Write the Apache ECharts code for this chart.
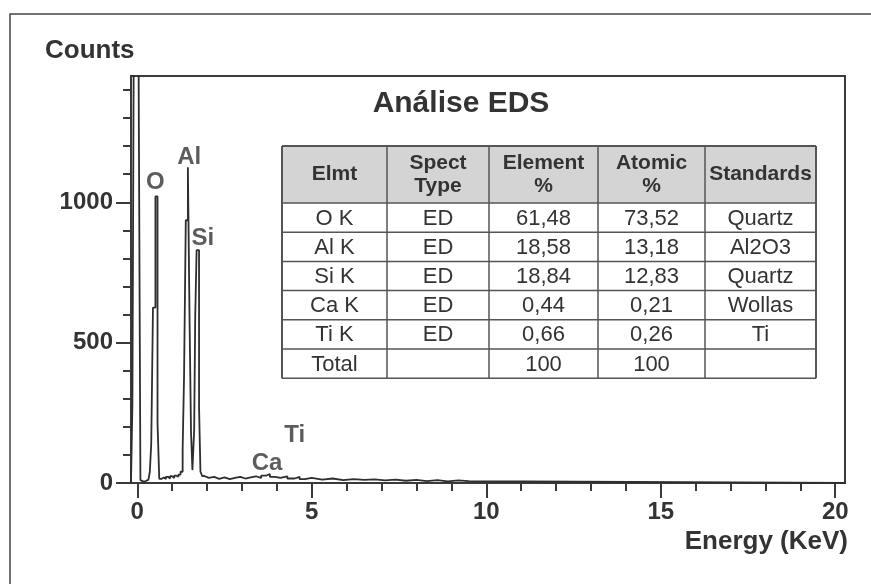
<!DOCTYPE html>
<html><head><meta charset="utf-8">
<script src="https://cdn.jsdelivr.net/npm/echarts@6/dist/echarts.min.js"></script>
<style>html,body{margin:0;padding:0;background:#fff}#c{width:871px;height:584px}</style>
</head><body><div id="c"></div>
<script>
// ---- spectrum data (energy in keV, counts held until next energy) ----
const energy = [-0.18,-0.14,-0.10,0.04,0.09,0.14,0.20,0.26,0.32,0.36,0.40,0.45,0.52,0.58,0.63,
  0.70,0.76,0.82,0.88,0.94,1.00,1.06,1.12,1.18,1.24,1.30,1.34,1.39,1.45,1.50,1.54,1.58,1.63,1.66,1.70,1.77,1.81,1.86,
  1.92,2.05,2.20,2.35,2.50,2.65,2.80,2.95,3.10,3.25,3.40,3.55,3.69,3.80,3.95,4.10,4.30,4.51,4.65,4.80,
  5.00,5.30,5.60,5.90,6.20,6.50,6.80,7.10,7.40,7.70,8.00,8.30,8.60,8.90,9.20,9.50,20.28];
const counts = [0,280,1600,1420,10,4,8,12,18,40,140,625,1021,214,15,
  20,14,22,16,24,18,26,22,30,40,120,378,936,1125,560,180,46,190,590,830,270,40,25,
  18,22,15,20,14,18,22,16,20,24,18,26,32,22,18,24,16,22,14,18,
  12,16,10,14,11,13,9,12,8,11,7,10,6,9,7,0,0];

const majorXTicks = [0,5,10,15,20];
const minorXTicks = [0,1,2,3,4,5,6,7,8,9,10,11,12,13,14,15,16,17,18,19,20];
const majorYTicks = [0,500,1000];
const minorYTicks = [0,100,200,300,400,500,600,700,800,900,1000,1100,1200,1300,1400];

const peakNames = ['O','Al','Si','Ca','Ti'];
const peakLabelEnergy = [0.52,1.49,1.88,3.72,4.51];
const peakLabelCounts = [1070,1160,872,70,168];

const tableHeader = ['Elmt','Spect\nType','Element\n%','Atomic\n%','Standards'];
const colElmt = ['O K','Al K','Si K','Ca K','Ti K','Total'];
const colType = ['ED','ED','ED','ED','ED',''];
const colElement = ['61,48','18,58','18,84','0,44','0,66','100'];
const colAtomic = ['73,52','13,18','12,83','0,21','0,26','100'];
const colStandard = ['Quartz','Al2O3','Quartz','Wollas','Ti',''];

const FONT = '"Liberation Sans", Arial, sans-serif';
const INK = '#333';

const chart = echarts.init(document.getElementById('c'), null, {renderer:'canvas'});

// table graphics
const colX = [282,387,489,598,705,816];
const headTop = 146, headBottom = 203, rowH = 29.2;
const tableBottom = headBottom + rowH * colElmt.length;
const g = [];
g.push({type:'rect', shape:{x:colX[0], y:headTop, width:colX[5]-colX[0], height:headBottom-headTop}, style:{fill:'#d4d4d4'}, z:10});
for (let k = 0; k <= colElmt.length; k++) {
  const y = headBottom + k * rowH;
  g.push({type:'line', shape:{x1:colX[0], y1:y, x2:colX[5], y2:y}, style:{stroke:'#555', lineWidth:1.5}, z:11});
}
g.push({type:'line', shape:{x1:colX[0], y1:headTop, x2:colX[5], y2:headTop}, style:{stroke:'#555', lineWidth:2}, z:11});
colX.forEach((x, i) => {
  g.push({type:'line', shape:{x1:x, y1:headTop, x2:x, y2:tableBottom}, style:{stroke:'#555', lineWidth:(i===0||i===5)?2:1.5}, z:11});
});
tableHeader.forEach((t, i) => {
  g.push({type:'text', x:(colX[i]+colX[i+1])/2, y:(headTop+headBottom)/2, z:12,
    style:{text:t, fill:INK, fontFamily:FONT, fontWeight:'bold', fontSize:21, lineHeight:23, align:'center', verticalAlign:'middle'}});
});
const cols = [colElmt, colType, colElement, colAtomic, colStandard];
cols.forEach((col, i) => {
  col.forEach((t, r) => {
    g.push({type:'text', x:(colX[i]+colX[i+1])/2, y:headBottom + rowH*(r+0.5) + 1, z:12,
      style:{text:t, fill:INK, fontFamily:FONT, fontWeight:'normal', fontSize:22, align:'center', verticalAlign:'middle'}});
  });
});
// frame, titles
g.push({type:'polyline', shape:{points:[[10,584],[10,14],[871,14]]}, style:{stroke:'#444', lineWidth:1.5, fill:null}, z:1});
g.push({type:'text', x:461, y:104, style:{text:'Análise EDS', fill:INK, fontFamily:FONT, fontWeight:'bold', fontSize:30, align:'center', verticalAlign:'middle'}, z:12});
g.push({type:'text', x:45, y:51, style:{text:'Counts', fill:INK, fontFamily:FONT, fontWeight:'bold', fontSize:26, align:'left', verticalAlign:'middle'}, z:12});
g.push({type:'text', x:848, y:542, style:{text:'Energy (KeV)', fill:INK, fontFamily:FONT, fontWeight:'bold', fontSize:26, align:'right', verticalAlign:'middle'}, z:12});

const axisLineStyle = {color:'#3a3a3a', width:2};
const xMin = -0.18, xMax = 20.28, yMin = 0, yMax = 1450;

chart.setOption({
  animation:false,
  backgroundColor:'#fff',
  grid:{left:131, right:26, top:76, bottom:101, show:true, borderColor:'#3a3a3a', borderWidth:2, backgroundColor:'transparent'},
  xAxis:[
    {type:'value', min:xMin, max:xMax, position:'bottom',
     axisLine:{show:true, onZero:false, lineStyle:axisLineStyle},
     axisTick:{show:true, customValues:majorXTicks, length:15, lineStyle:axisLineStyle},
     axisLabel:{show:true, customValues:majorXTicks, margin:17, color:INK, fontFamily:FONT, fontWeight:'bold', fontSize:24,
       formatter:(v) => String(v)},
     splitLine:{show:false}},
    {type:'value', min:xMin, max:xMax, position:'bottom',
     axisLine:{show:false, onZero:false},
     axisTick:{show:true, customValues:minorXTicks, length:8, lineStyle:axisLineStyle},
     axisLabel:{show:false}, splitLine:{show:false}}
  ],
  yAxis:[
    {type:'value', min:yMin, max:yMax, position:'left',
     axisLine:{show:true, onZero:false, lineStyle:axisLineStyle},
     axisTick:{show:true, customValues:majorYTicks, length:15, lineStyle:axisLineStyle},
     axisLabel:{show:true, customValues:majorYTicks, margin:18, color:INK, fontFamily:FONT, fontWeight:'bold', fontSize:24,
       formatter:(v) => String(v)},
     splitLine:{show:false}},
    {type:'value', min:yMin, max:yMax, position:'left',
     axisLine:{show:false, onZero:false},
     axisTick:{show:true, customValues:minorYTicks, length:8, lineStyle:axisLineStyle},
     axisLabel:{show:false}, splitLine:{show:false}}
  ],
  series:[
    {type:'line', xAxisIndex:0, yAxisIndex:0, step:'end', showSymbol:false, symbol:'none', clip:true,
     data: energy.map((e, i) => [e, counts[i]]),
     lineStyle:{color:'#2e2e2e', width:1.8}, z:5, silent:true},
    {type:'scatter', xAxisIndex:0, yAxisIndex:0, symbolSize:1, itemStyle:{color:'transparent'}, silent:true, z:6,
     data: peakNames.map((n, i) => ({name:n, value:[peakLabelEnergy[i], peakLabelCounts[i]]})),
     label:{show:true, position:'inside', formatter:'{b}', color:INK, fontFamily:FONT, fontWeight:'bold', fontSize:24}}
  ],
  graphic: g
});
</script>
</body></html>
